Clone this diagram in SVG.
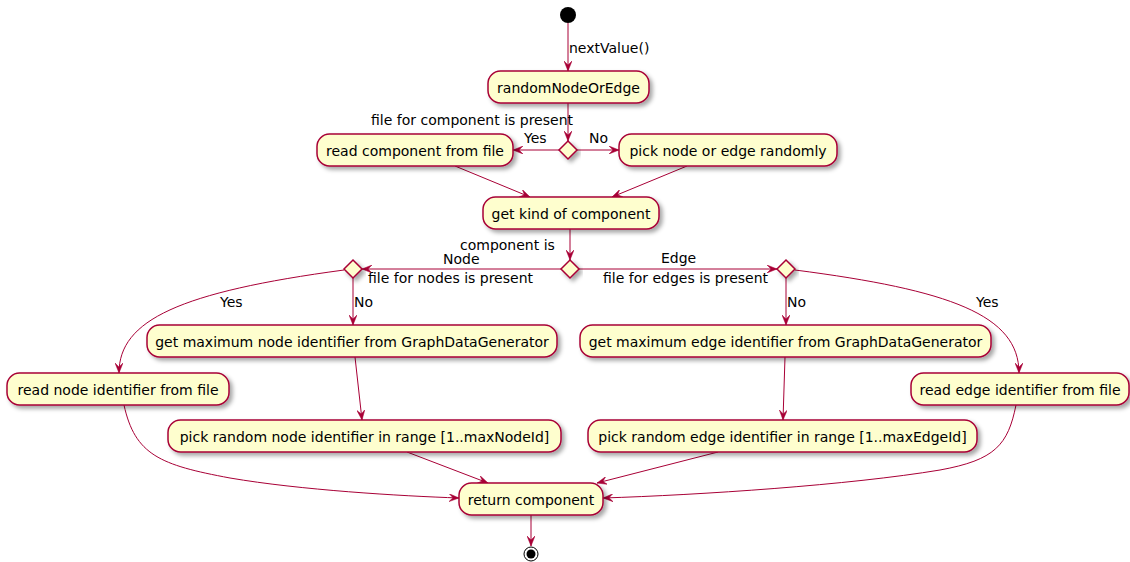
<svg xmlns="http://www.w3.org/2000/svg" width="1130" height="562" viewBox="0 0 1130 562">
<style>
.box{fill:#FEFECE;stroke:#A80036;stroke-width:1.5;filter:url(#sh)}
.dia{fill:#FEFECE;stroke:#A80036;stroke-width:1.5;filter:url(#sh)}
.t{font-family:"DejaVu Sans",sans-serif;font-size:14px;fill:#000}
.c{text-anchor:middle}
.e{text-anchor:end}
.ln{fill:none;stroke:#A80036;stroke-width:1;marker-end:url(#ah)}
</style>
<defs>
<filter id="sh" x="-20%" y="-30%" width="140%" height="170%">
<feDropShadow dx="3" dy="3" stdDeviation="2" flood-color="#000" flood-opacity="0.35"/>
</filter>
<marker id="ah" viewBox="0 0 10 8" refX="10" refY="4" markerWidth="10" markerHeight="8" markerUnits="userSpaceOnUse" orient="auto">
<path d="M0,0 L10,4 L0,8 L4,4 Z" fill="#A80036" stroke="#A80036" stroke-width="0.5"/>
</marker>
</defs>
<rect width="1130" height="562" fill="#fff"/>
<g id="connectors">
<path class="ln" d="M568,23 L568,71"/>
<path class="ln" d="M568,103 L568,141"/>
<path class="ln" d="M559,150 L513,150"/>
<path class="ln" d="M577,150 L619,150"/>
<path class="ln" d="M455,166 L530,197"/>
<path class="ln" d="M687,166 L612,197"/>
<path class="ln" d="M570,229 L570,260"/>
<path class="ln" d="M561,269 L362,269"/>
<path class="ln" d="M579,269 L777,269"/>
<path class="ln" d="M353,278 L353,325"/>
<path class="ln" d="M344,270 C180,292 119,320 119,373"/>
<path class="ln" d="M786,278 L786,325"/>
<path class="ln" d="M795,270 C950,290 1019,315 1019,373"/>
<path class="ln" d="M355,357 L362,420"/>
<path class="ln" d="M785,357 L783,420"/>
<path class="ln" d="M407,452 L488,483"/>
<path class="ln" d="M718,452 L597,483"/>
<path class="ln" d="M124,405 C135,455 160,465 230,478 C300,490 400,496 459,498"/>
<path class="ln" d="M1016,405 C1008,445 995,460 940,470 C850,485 700,495 603,498"/>
<path class="ln" d="M531,515 L531,546"/>
</g>
<g id="labels">
<text class="t" x="569" y="53">nextValue()</text>
<text class="t e" x="573" y="125">file for component is present</text>
<text class="t" x="524" y="143">Yes</text>
<text class="t" x="589" y="143">No</text>
<text class="t" x="460" y="250">component is</text>
<text class="t" x="443" y="264">Node</text>
<text class="t" x="368" y="283">file for nodes is present</text>
<text class="t" x="661" y="263">Edge</text>
<text class="t" x="603" y="283">file for edges is present</text>
<text class="t" x="354" y="307">No</text>
<text class="t" x="220" y="307">Yes</text>
<text class="t" x="787" y="307">No</text>
<text class="t" x="976" y="307">Yes</text>
</g>
<g id="start"><circle cx="568" cy="15" r="8" fill="#000"/></g>
<g id="randomNodeOrEdge"><rect class="box" x="488" y="71" width="161" height="32" rx="12.5"/><text class="t c" x="568.5" y="93">randomNodeOrEdge</text></g>
<g id="d_file_component"><polygon class="dia" points="568,141 577,150 568,159 559,150"/></g>
<g id="read_component"><rect class="box" x="317" y="134" width="196" height="32" rx="12.5"/><text class="t c" x="415" y="156">read component from file</text></g>
<g id="pick_node_or_edge"><rect class="box" x="619" y="134" width="218" height="32" rx="12.5"/><text class="t c" x="728" y="156">pick node or edge randomly</text></g>
<g id="get_kind"><rect class="box" x="483" y="197" width="176" height="32" rx="12.5"/><text class="t c" x="571" y="219">get kind of component</text></g>
<g id="d_kind"><polygon class="dia" points="570,260 579,269 570,278 561,269"/></g>
<g id="d_node_file"><polygon class="dia" points="353,260 362,269 353,278 344,269"/></g>
<g id="d_edge_file"><polygon class="dia" points="786,260 795,269 786,278 777,269"/></g>
<g id="get_max_node"><rect class="box" x="147" y="325" width="410" height="32" rx="12.5"/><text class="t c" x="352" y="347">get maximum node identifier from GraphDataGenerator</text></g>
<g id="read_node_id"><rect class="box" x="7" y="373" width="222" height="32" rx="12.5"/><text class="t c" x="118" y="395">read node identifier from file</text></g>
<g id="pick_random_node"><rect class="box" x="168" y="420" width="393" height="32" rx="12.5"/><text class="t c" x="364.5" y="442">pick random node identifier in range [1..maxNodeId]</text></g>
<g id="get_max_edge"><rect class="box" x="580" y="325" width="411" height="32" rx="12.5"/><text class="t c" x="785.5" y="347">get maximum edge identifier from GraphDataGenerator</text></g>
<g id="read_edge_id"><rect class="box" x="911" y="373" width="218" height="32" rx="12.5"/><text class="t c" x="1020" y="395">read edge identifier from file</text></g>
<g id="pick_random_edge"><rect class="box" x="588" y="420" width="389" height="32" rx="12.5"/><text class="t c" x="782.5" y="442">pick random edge identifier in range [1..maxEdgeId]</text></g>
<g id="return_component"><rect class="box" x="459" y="483" width="144" height="32" rx="12.5"/><text class="t c" x="531" y="505">return component</text></g>
<g id="end"><circle cx="531" cy="554" r="7" fill="#fff" stroke="#000" stroke-width="1"/><circle cx="531" cy="554" r="4.5" fill="#000"/></g>
</svg>
